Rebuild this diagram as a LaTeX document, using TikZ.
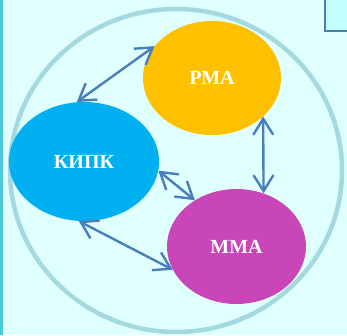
\documentclass[tikz,border=0pt]{standalone}
\usepackage{fontspec}
\setmainfont{Liberation Serif}
\usetikzlibrary{shapes.geometric,arrows.meta}
\definecolor{bgcyan}{HTML}{E0FFFF}
\definecolor{stripcyan}{HTML}{4EC9D9}
\definecolor{boxcyan}{HTML}{C2FEFF}
\definecolor{boxedge}{HTML}{4F7FA8}
\definecolor{ringblue}{HTML}{A5D9E0}
\definecolor{linkblue}{HTML}{4A7EBB}
\definecolor{rmafill}{HTML}{FFC000}
\definecolor{kipkfill}{HTML}{00B0F0}
\definecolor{mmafill}{HTML}{C846B8}

\begin{document}
\begin{tikzpicture}[x=1pt,y=-1pt,
  org/.style={ellipse,inner sep=0pt,text=white,
    font=\fontsize{20}{20}\selectfont\bfseries},
  link/.style={{Straight Barb[length=16pt,width=20pt,line width=2.4pt]}-{Straight Barb[length=16pt,width=20pt,line width=2.4pt]},
    line width=2.4pt,color=linkblue}]
\useasboundingbox (0,0) rectangle (347,335);
\fill[bgcyan] (0,0) rectangle (347,335);
\fill[stripcyan] (0,0) rectangle (3,335);
\fill[boxcyan] (325,0) rectangle (347,31);
\draw[boxedge,line width=1.5pt] (325,0) -- (325,31) -- (347,31);
\draw[ringblue,line width=4.5pt] (176,170.5) ellipse [x radius=166,y radius=161.5];

\node[org,fill=rmafill,minimum width=138pt,minimum height=114pt] (rma) at (212,78) {РМА};
\node[org,fill=kipkfill,minimum width=150pt,minimum height=119pt] (kipk) at (84,161.5) {КИПК};
\node[org,fill=mmafill,minimum width=139pt,minimum height=115pt] (mma) at (236.5,246.5) {ММА};

\path[link]
  (kipk.97) edge (rma.151)
  (rma.-37) edge (mma.63)
  (kipk.-7) edge (mma.132)
  (kipk.-95) edge (mma.200)
  ;
\end{tikzpicture}
\end{document}
